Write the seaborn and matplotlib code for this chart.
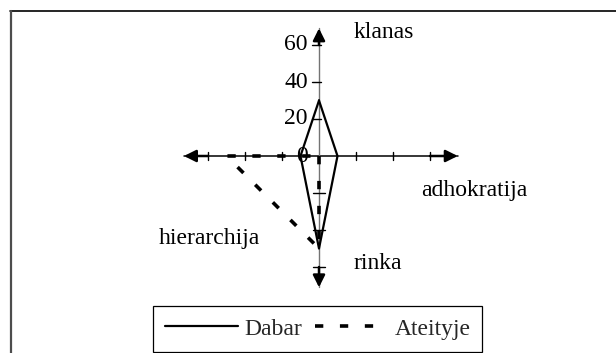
import matplotlib
matplotlib.use("Agg")
import matplotlib.pyplot as plt
import seaborn as sns
import pandas as pd
from matplotlib.lines import Line2D

# Organisational culture profile (competing values framework)
categories = ["klanas", "adhokratija", "rinka", "hierarchija"]
series_names = ["Dabar", "Ateityje"]
dabar = [30, 10, 50, 10]
ateityje = [0, 0, 50, 50]
radial_ticks = [0, 20, 40, 60]

# each category sits on its own arm of the cross
directions = {"klanas": (0, 1), "adhokratija": (1, 0),
              "rinka": (0, -1), "hierarchija": (-1, 0)}

rows = []
for name, vals in zip(series_names, [dabar, ateityje]):
    closed_cats = categories + categories[:1]
    closed_vals = vals + vals[:1]
    for order, (cat, v) in enumerate(zip(closed_cats, closed_vals)):
        dx, dy = directions[cat]
        rows.append(dict(series=name, order=order, x=dx * v, y=dy * v))
df = pd.DataFrame(rows)

sns.set_theme(style="white")
plt.rcParams["font.family"] = ["Liberation Serif", "DejaVu Serif"]
FS = 17

W, H = 616, 353
fig = plt.figure(figsize=(W / 100, H / 100), dpi=100)
ax = fig.add_axes([0, 0, 1, 1])
scale = 1.85          # pixels per value unit
cx, cy = 319, 156     # centre of the cross in pixels
xlim = (-cx / scale, (W - cx) / scale)
ylim = (-(H - cy) / scale, cy / scale)
ax.axis("off")

# --- the cross of axes ---
arm = {"klanas": 69, "adhokratija": 75, "rinka": 71, "hierarchija": 73}
ax.plot([-arm["hierarchija"], arm["adhokratija"]], [0, 0], color="black", lw=1.1, zorder=1)
ax.plot([0, 0], [-arm["rinka"], arm["klanas"]], color="0.45", lw=1.0, zorder=1)
for cat in categories:
    dx, dy = directions[cat]
    tip = (dx * arm[cat], dy * arm[cat])
    start = (dx * 60, dy * 60)
    ax.annotate("", xy=tip, xytext=start,
                arrowprops=dict(arrowstyle="-|>,head_length=0.4,head_width=0.2",
                                mutation_scale=18, color="black", lw=1.8,
                                shrinkA=0, shrinkB=0),
                zorder=2)

# tick marks on every arm
for v in radial_ticks[1:]:
    ax.plot([-3.8, 1.0], [v, v], color="black", lw=1.0, zorder=2)
    ax.plot([v, v], [-2.2, 2.2], color="black", lw=1.0, zorder=2)
    ax.plot([-v, -v], [-2.2, 2.2], color="black", lw=1.0, zorder=2)
    ax.plot([-3.2, 3.2], [-v, -v], color="black", lw=1.0, zorder=2)

# value labels on the upper arm
for v in radial_ticks:
    ax.text(-6, v, str(v), ha="right", va="center", fontsize=FS, color="black")

# category names
label_pos = {"klanas": (35, 66.5), "adhokratija": (84, -18.5),
             "rinka": (31.5, -58), "hierarchija": (-59, -44.5)}
for cat in categories:
    x, y = label_pos[cat]
    ax.text(x, y, cat, ha="center", va="center", fontsize=FS, color="black")

# --- the two profiles ---
dash = (2.3, 4.6)
sns.lineplot(data=df[df.series == "Dabar"], x="x", y="y", sort=False, estimator=None,
             color="black", lw=1.6, ax=ax, zorder=3)
sns.lineplot(data=df[df.series == "Ateityje"], x="x", y="y", sort=False, estimator=None,
             color="black", lw=2.6, ax=ax, zorder=4, linestyle=(0, dash),
             dash_capstyle="butt")
ax.set_xlim(*xlim)
ax.set_ylim(*ylim)
ax.axis("off")

handles = [Line2D([], [], color="black", lw=1.6),
           Line2D([], [], color="black", lw=2.6, linestyle=(0, dash), dash_capstyle="butt")]
leg = fig.legend(handles, series_names, ncol=2, loc="lower left",
                 bbox_to_anchor=(153 / W, 1.5 / H), fontsize=FS, frameon=True,
                 fancybox=False, framealpha=1, edgecolor="black",
                 handlelength=3.1, handletextpad=0.27, columnspacing=0.55,
                 borderpad=0.5, borderaxespad=0)
leg.get_frame().set_linewidth(0.9)

# outer frame (top and left edges)
fig.add_artist(Line2D([10 / W, 1], [1 - 11 / H, 1 - 11 / H], color="black", lw=1.2,
                      transform=fig.transFigure))
fig.add_artist(Line2D([11 / W, 11 / W], [0, 1 - 11 / H], color="0.3", lw=1.6,
                      transform=fig.transFigure))

fig.savefig("out.png", dpi=100)
